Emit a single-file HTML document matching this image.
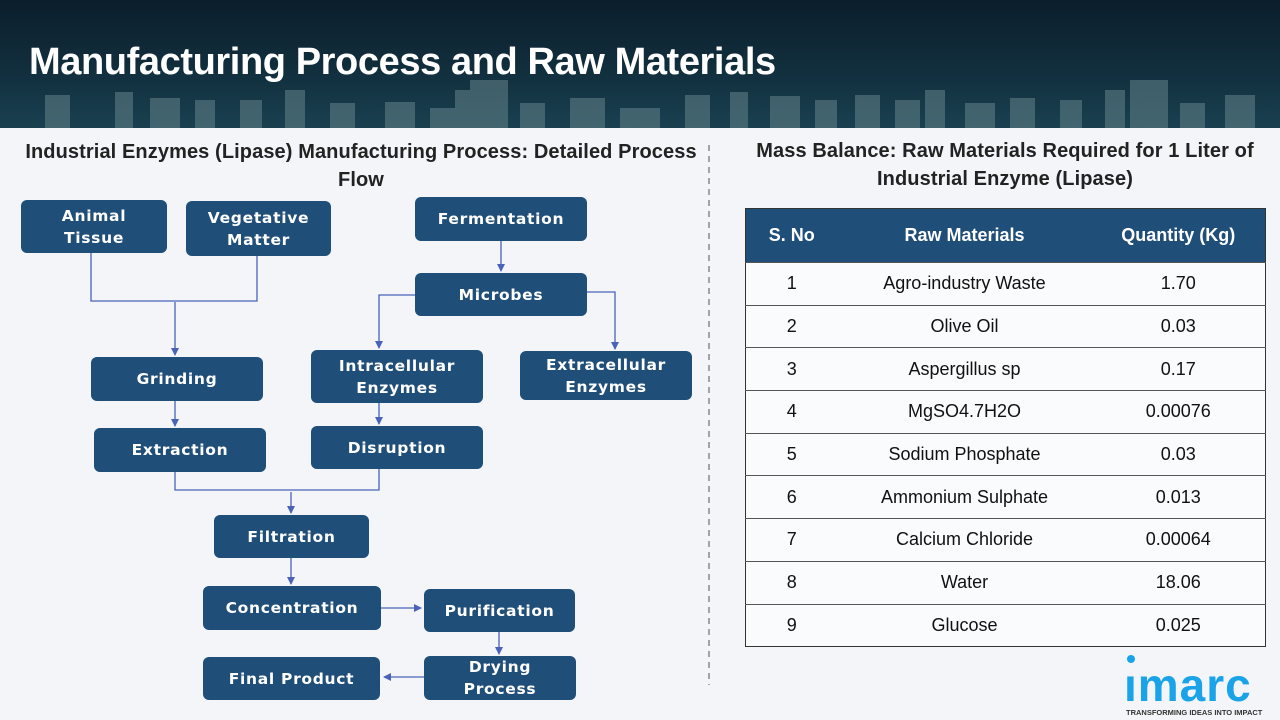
<!DOCTYPE html>
<html><head><meta charset="utf-8"><style>
*{margin:0;padding:0;box-sizing:border-box}
body{width:1280px;height:720px;overflow:hidden;background:#f3f5f8;font-family:"Liberation Sans",sans-serif;position:relative}
.hdr{position:absolute;left:0;top:0;width:1280px;height:128px;background:linear-gradient(180deg,#0b1e2c 0%,#12303f 60%,#1a4150 100%)}
.title{position:absolute;left:29px;top:41px;color:#fff;font-weight:bold;font-size:38px;letter-spacing:-0.4px}
.b{position:absolute;background:#1f4e79;border-radius:6px;color:#fff;font-family:"DejaVu Sans",sans-serif;font-weight:bold;font-size:15.5px;display:flex;align-items:center;justify-content:center;text-align:center;line-height:22px;letter-spacing:0.7px}
.h{position:absolute;font-weight:bold;font-size:20px;color:#222;text-align:center;line-height:28px;letter-spacing:0.1px}
table{position:absolute;left:745px;top:208px;width:521px;border-collapse:collapse;font-size:18px;color:#111}
th{background:#1f4e79;color:#fff;height:54px;font-weight:bold;font-size:18px}
td{height:42.7px;text-align:center;border-top:1px solid #555;background:#fafbfc}
table{border:1px solid #333}
</style></head><body>
<div class="hdr">
<svg width="1280" height="128" style="position:absolute;left:0;top:0">
<g fill="#5d7d86" opacity="0.6">
<rect x="45" y="95" width="25" height="33"/><rect x="50" y="110" width="20" height="18"/>
<rect x="115" y="92" width="18" height="36"/><rect x="150" y="98" width="30" height="30"/>
<rect x="195" y="100" width="20" height="28"/><rect x="240" y="100" width="22" height="28"/>
<rect x="285" y="90" width="20" height="38"/><rect x="330" y="103" width="25" height="25"/>
<rect x="385" y="102" width="30" height="26"/><rect x="430" y="108" width="25" height="20"/>
<rect x="455" y="90" width="20" height="38"/><rect x="470" y="80" width="38" height="48"/>
<rect x="520" y="103" width="25" height="25"/><rect x="570" y="98" width="35" height="30"/>
<rect x="620" y="108" width="40" height="20"/>
<rect x="685" y="95" width="25" height="33"/><rect x="730" y="92" width="18" height="36"/>
<rect x="770" y="96" width="30" height="32"/><rect x="815" y="100" width="22" height="28"/>
<rect x="855" y="95" width="25" height="33"/><rect x="895" y="100" width="25" height="28"/>
<rect x="925" y="90" width="20" height="38"/><rect x="965" y="103" width="30" height="25"/>
<rect x="1010" y="98" width="25" height="30"/><rect x="1060" y="100" width="22" height="28"/>
<rect x="1105" y="90" width="20" height="38"/><rect x="1130" y="80" width="38" height="48"/>
<rect x="1180" y="103" width="25" height="25"/><rect x="1225" y="95" width="30" height="33"/>
</g></svg>
<div class="title">Manufacturing Process and Raw Materials</div>
</div>

<div class="h" style="left:6px;width:710px;top:138px">Industrial Enzymes (Lipase) Manufacturing Process: Detailed Process<br>Flow</div>
<div class="h" style="left:740px;width:530px;top:137px">Mass Balance: Raw Materials Required for 1 Liter of<br>Industrial Enzyme (Lipase)</div>

<svg width="1280" height="720" style="position:absolute;left:0;top:0">
<defs><marker id="a" markerWidth="8" markerHeight="8" refX="7" refY="4" orient="auto" markerUnits="userSpaceOnUse"><path d="M0,0 L8,4 L0,8z" fill="#4a63b8"/></marker></defs>
<line x1="709" y1="145" x2="709" y2="685" stroke="#888" stroke-width="1.5" stroke-dasharray="6,5"/>
<g stroke="#4a63b8" stroke-width="1.3" fill="none">
<polyline points="91,253 91,301 257,301 257,256"/>
<line x1="175" y1="302" x2="175" y2="355" marker-end="url(#a)"/>
<line x1="501" y1="241" x2="501" y2="271" marker-end="url(#a)"/>
<polyline points="415,295 379,295 379,348" marker-end="url(#a)"/>
<polyline points="587,292 615,292 615,349" marker-end="url(#a)"/>
<line x1="175" y1="401" x2="175" y2="426" marker-end="url(#a)"/>
<line x1="379" y1="403" x2="379" y2="424" marker-end="url(#a)"/>
<polyline points="175,472 175,490 379,490 379,469"/>
<line x1="291" y1="492" x2="291" y2="513" marker-end="url(#a)"/>
<line x1="291" y1="558" x2="291" y2="584" marker-end="url(#a)"/>
<line x1="381" y1="608" x2="421" y2="608" marker-end="url(#a)"/>
<line x1="499" y1="632" x2="499" y2="654" marker-end="url(#a)"/>
<line x1="424" y1="677" x2="384" y2="677" marker-end="url(#a)"/>
</g></svg>

<div class="b" style="left:21px;top:200px;width:146px;height:53px">Animal<br>Tissue</div>
<div class="b" style="left:186px;top:201px;width:145px;height:55px">Vegetative<br>Matter</div>
<div class="b" style="left:415px;top:197px;width:172px;height:44px">Fermentation</div>
<div class="b" style="left:415px;top:273px;width:172px;height:43px">Microbes</div>
<div class="b" style="left:91px;top:357px;width:172px;height:44px">Grinding</div>
<div class="b" style="left:311px;top:350px;width:172px;height:53px">Intracellular<br>Enzymes</div>
<div class="b" style="left:520px;top:351px;width:172px;height:49px">Extracellular<br>Enzymes</div>
<div class="b" style="left:94px;top:428px;width:172px;height:44px">Extraction</div>
<div class="b" style="left:311px;top:426px;width:172px;height:43px">Disruption</div>
<div class="b" style="left:214px;top:515px;width:155px;height:43px">Filtration</div>
<div class="b" style="left:203px;top:586px;width:178px;height:44px">Concentration</div>
<div class="b" style="left:424px;top:589px;width:151px;height:43px">Purification</div>
<div class="b" style="left:424px;top:656px;width:152px;height:44px">Drying<br>Process</div>
<div class="b" style="left:203px;top:657px;width:177px;height:43px">Final Product</div>

<table>
<tr><th style="width:92px">S. No</th><th style="width:254px">Raw Materials</th><th>Quantity (Kg)</th></tr>
<tr><td>1</td><td>Agro-industry Waste</td><td>1.70</td></tr>
<tr><td>2</td><td>Olive Oil</td><td>0.03</td></tr>
<tr><td>3</td><td>Aspergillus sp</td><td>0.17</td></tr>
<tr><td>4</td><td>MgSO4.7H2O</td><td>0.00076</td></tr>
<tr><td>5</td><td>Sodium Phosphate</td><td>0.03</td></tr>
<tr><td>6</td><td>Ammonium Sulphate</td><td>0.013</td></tr>
<tr><td>7</td><td>Calcium Chloride</td><td>0.00064</td></tr>
<tr><td>8</td><td>Water</td><td>18.06</td></tr>
<tr><td>9</td><td>Glucose</td><td>0.025</td></tr>
</table>

<div style="position:absolute;left:1127px;top:655px;width:8px;height:8px;border-radius:50%;background:#1aa3e8"></div>
<div style="position:absolute;left:1124px;top:658px;font-size:46px;font-weight:bold;color:#1aa3e8;letter-spacing:1px;white-space:nowrap">ımarc</div>
<div style="position:absolute;left:1126px;top:708px;font-size:7.5px;font-weight:bold;color:#333;letter-spacing:0;white-space:nowrap">TRANSFORMING IDEAS INTO IMPACT</div>
</body></html>
